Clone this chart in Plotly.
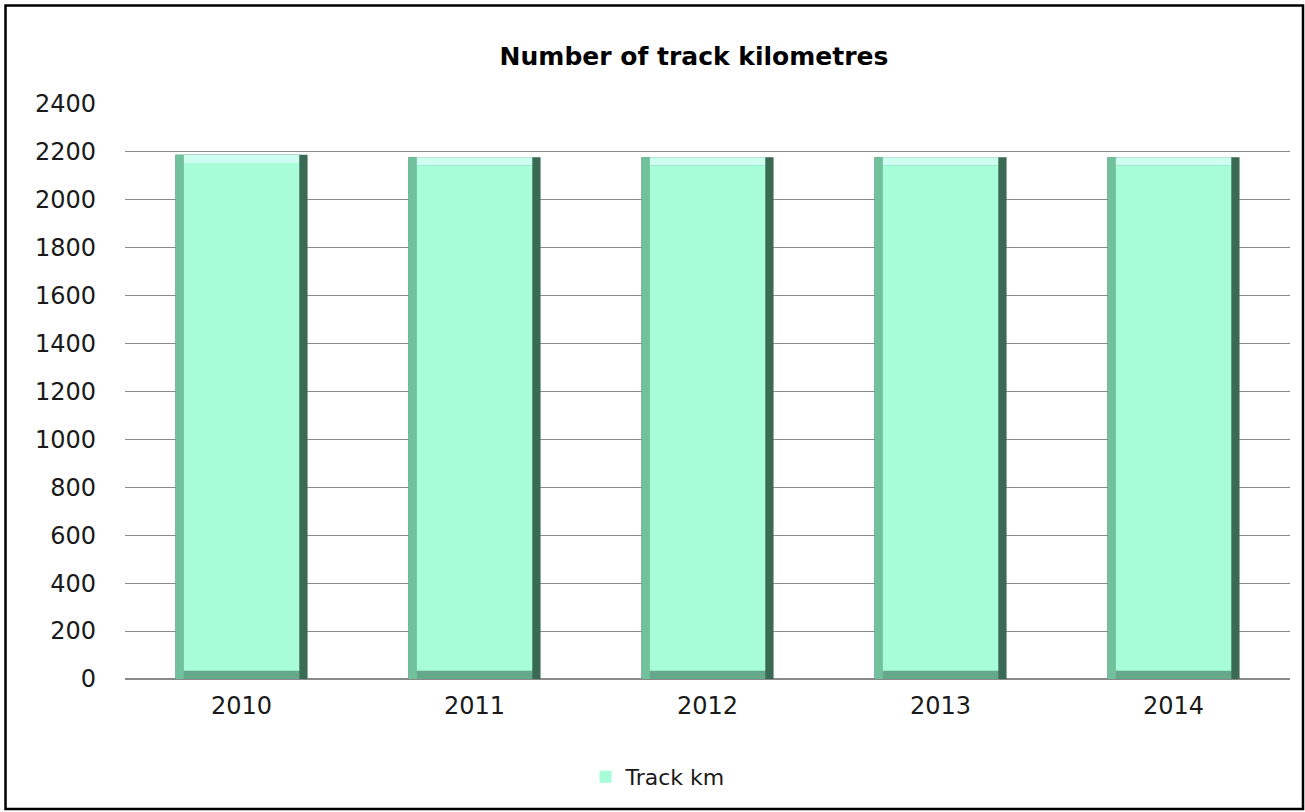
import plotly.graph_objects as go

years = ["2010", "2011", "2012", "2013", "2014"]
track_km = [2188, 2178, 2178, 2178, 2178]
y_ticks = [0, 200, 400, 600, 800, 1000, 1200, 1400, 1600, 1800, 2000, 2200, 2400]

W, H = 1305, 812
L, R, T, B = 125, 15, 104, 133
plot_w = W - L - R
plot_h = H - T - B

xpos = list(range(len(years)))
bar_w = 0.567
d = 0.036          # side bevel in category units
bv = 34            # vertical bevel in data units
left = -bar_w / 2

fig = go.Figure()
# right dark edge (full bar)
fig.add_trace(go.Bar(x=xpos, y=track_km, width=bar_w, offset=left,
                     marker=dict(color="#3a6a54", line=dict(width=0)),
                     showlegend=False, hoverinfo="skip"))
# left bevel
fig.add_trace(go.Bar(x=xpos, y=track_km, width=bar_w - d, offset=left,
                     marker=dict(color="#72c19d", line=dict(width=0)),
                     showlegend=False, hoverinfo="skip"))
# bottom bevel (inner)
fig.add_trace(go.Bar(x=xpos, y=track_km, width=bar_w - 2 * d, offset=left + d,
                     marker=dict(color="#66a98a", line=dict(width=0)),
                     showlegend=False, hoverinfo="skip"))
# top highlight
fig.add_trace(go.Bar(x=xpos, y=[bv] * len(track_km), base=[v - bv for v in track_km],
                     width=bar_w - 2 * d, offset=left + d,
                     marker=dict(color="#cffff1", line=dict(width=0)),
                     showlegend=False, hoverinfo="skip"))
# face
fig.add_trace(go.Bar(x=xpos, y=[v - 2 * bv for v in track_km], base=[bv] * len(track_km),
                     width=bar_w - 2 * d, offset=left + d,
                     marker=dict(color="#a6fdd7", line=dict(width=0)),
                     name="Track km", showlegend=True))

font_family = "DejaVu Sans, Open Sans, sans-serif"

fig.update_layout(
    width=W, height=H,
    barmode="overlay",
    plot_bgcolor="white", paper_bgcolor="white",
    margin=dict(l=L, r=R, t=T, b=B, autoexpand=False),
    title=dict(text="<b>Number of track kilometres</b>", x=694 / W, xref="container",
               xanchor="center", y=1 - 56 / H, yref="container", yanchor="middle",
               font=dict(family=font_family, size=25, color="black")),
    font=dict(family=font_family, color="#1a1a1a"),
    legend=dict(orientation="h", x=(658 - L) / plot_w, xanchor="center",
                y=-(777 - (T + plot_h)) / plot_h, yanchor="middle",
                font=dict(size=22, color="#1a1a1a"), itemwidth=30),
    xaxis=dict(range=[-0.5, len(years) - 0.5], tickvals=xpos, ticktext=years,
               showgrid=False, showline=False, zeroline=False,
               tickfont=dict(size=24, color="#1a1a1a"), ticks="", ticklabelstandoff=10),
    yaxis=dict(range=[0, 2400], tickvals=y_ticks, ticktext=[str(v) for v in y_ticks],
               showgrid=True, gridcolor="#8a8a8a", gridwidth=1,
               zeroline=True, zerolinecolor="#8a8a8a", zerolinewidth=1.5,
               showline=False, ticks="", tickfont=dict(size=24, color="#1a1a1a"),
               ticklabelstandoff=28),
    shapes=[dict(type="rect", xref="paper", yref="paper",
                 x0=(5.5 - L) / plot_w, x1=(1303 - L) / plot_w,
                 y0=1 + (T - 5.5) / plot_h, y1=-(809 - T - plot_h) / plot_h,
                 line=dict(color="black", width=2.5), fillcolor="rgba(0,0,0,0)",
                 layer="above")],
)

fig.write_html("out.html", config={"displayModeBar": False},
               post_script="document.body.style.margin='0';document.body.style.overflow='hidden';")
